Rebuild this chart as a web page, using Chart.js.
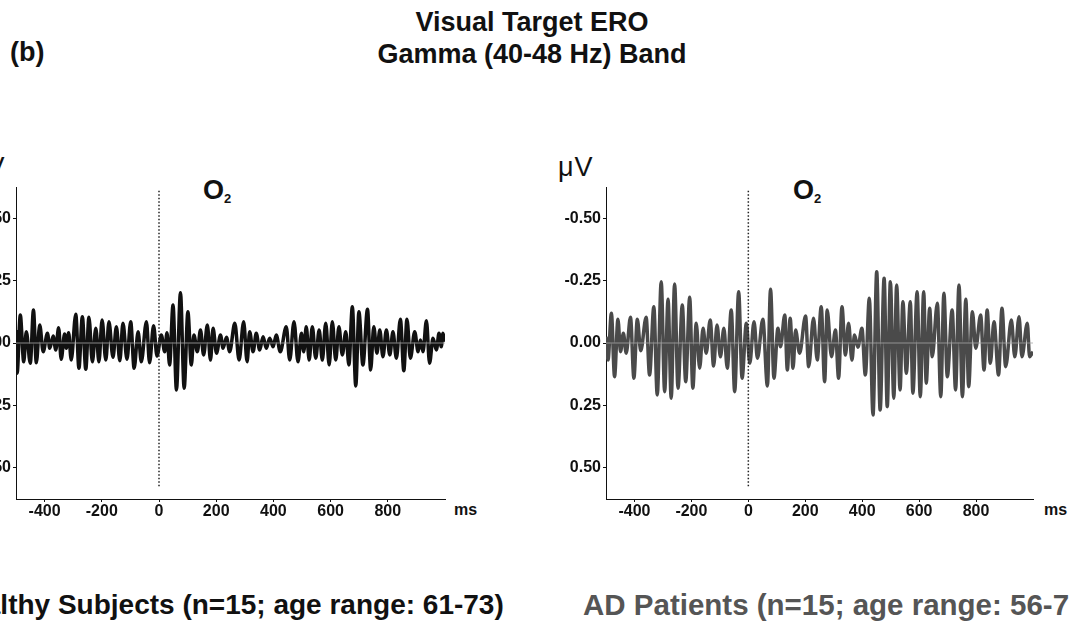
<!DOCTYPE html>
<html>
<head>
<meta charset="utf-8">
<script src="https://cdn.jsdelivr.net/npm/chart.js@4.4.1/dist/chart.umd.min.js"></script>
<style>
  html, body { margin:0; padding:0; background:#fff; width:1069px; height:623px; overflow:hidden; position:relative;
    font-family:'Liberation Sans', Arial, sans-serif; }
  .txt { position:absolute; white-space:nowrap; line-height:1; font-weight:bold; color:#111; }
  .txt sub { font-size:13px; vertical-align:-4px; }
  canvas { position:absolute; }
</style>
</head>
<body>
<div class="txt" style="left:10px;top:39px;font-size:27px">(b)</div>
<div class="txt" style="left:0;width:1064px;text-align:center;top:9px;font-size:27px">Visual Target ERO</div>
<div class="txt" style="left:0;width:1064px;text-align:center;top:41px;font-size:27px">Gamma (40-48 Hz) Band</div>

<div class="txt" style="left:-30px;top:154px;font-size:27px;font-weight:normal;letter-spacing:1px">μV</div>
<div class="txt" style="left:558px;top:154px;font-size:27px;font-weight:normal;letter-spacing:1px">μV</div>
<div class="txt" style="left:203px;top:177px;font-size:27px">O<sub>2</sub></div>
<div class="txt" style="left:793px;top:177px;font-size:27px">O<sub>2</sub></div>
<div class="txt" style="left:454px;top:502px;font-size:16px">ms</div>
<div class="txt" style="left:1044px;top:502px;font-size:16px">ms</div>

<div class="txt" style="left:-51px;top:591px;font-size:28px">Healthy Subjects (n=15; age range: 61-73)</div>
<div class="txt" style="left:583px;top:590px;font-size:29.5px;color:#555">AD Patients (n=15; age range: 56-73)</div>

<canvas id="healthy" width="509" height="372" style="left:-54px;top:167px"></canvas>
<canvas id="patients" width="507" height="372" style="left:536px;top:167px"></canvas>

<script>
// axis setup (ms / uV, negative up)
const xMin = -500, xMax = 1000
const yMin = -0.625, yMax = 0.625
const xTicks = [-400, -200, 0, 200, 400, 600, 800]
const yTicks = [-0.5, -0.25, 0, 0.25, 0.5]
const onsetSpan = [-0.61, 0.58]

// healthy subjects, O2 - peaks and troughs
const healthyTimes = [
  -501, -496, -485, -473, -464, -450, -439, -429, -417, -405, -390, -382, -370, -361, -351, -342, -330, -324, -316, -307,
  -291, -280, -268, -256, -245, -233, -221, -210, -199, -186, -175, -161, -149, -137, -126, -112, -99, -87, -73, -62,
  -44, -33, -19, -7,
  8, 20, 28, 37, 49, 61, 75, 88, 101, 113, 122, 134, 145, 156, 169, 180, 189, 201, 215, 224,
  236, 247, 265, 280, 296, 308, 317, 329, 340, 352, 364, 375, 387, 399, 410, 424, 445, 457, 472, 486,
  498, 506, 515, 525,
  536, 548, 560, 571, 583, 595, 606, 618, 629, 641, 653, 664, 676, 688, 699, 713, 729, 740, 751, 762,
  772, 783, 795, 807, 818, 830, 844, 856, 867, 879, 894, 906, 914, 923, 935, 946, 958, 970, 979, 987,
  993, 999
]
const healthyValues = [
  -0.052, 0.121, -0.112, 0.075, -0.045, 0.081, -0.132, 0.079, -0.072, 0.035, -0.039, 0.021, -0.028, 0.028, -0.061, 0.065, -0.036, 0.021, -0.041, 0.068,
  -0.115, 0.101, -0.105, 0.105, -0.103, 0.075, -0.059, 0.075, -0.092, 0.068, -0.085, 0.057, -0.065, 0.071, -0.079, 0.065, -0.085, 0.101, -0.045, 0.075,
  -0.085, 0.079, -0.069, 0.052,
  -0.032, 0.035, -0.041, 0.088, -0.152, 0.188, -0.201, 0.181, -0.125, 0.088, -0.032, 0.035, -0.052, 0.048, -0.072, 0.068, -0.059, 0.041, -0.032, 0.021,
  -0.023, 0.035, -0.079, 0.068, -0.085, 0.075, -0.045, 0.035, -0.039, 0.028, -0.025, 0.021, -0.019, 0.015, -0.032, 0.035, -0.065, 0.068, -0.085, 0.075,
  -0.039, 0.035, -0.065, 0.068,
  -0.065, 0.061, -0.052, 0.068, -0.079, 0.088, -0.085, 0.068, -0.065, 0.048, -0.045, 0.088, -0.145, 0.172, -0.125, 0.088, -0.135, 0.108, -0.065, 0.041,
  -0.052, 0.055, -0.052, 0.048, -0.045, 0.061, -0.095, 0.111, -0.095, 0.061, -0.045, 0.035, -0.012, 0.035, -0.089, 0.081, -0.019, 0.028, -0.039, 0.015,
  -0.039, -0.005
]

// AD patients, O2
const patientTimes = [
  -500, -493, -481, -470, -458, -449, -439, -429, -414, -402, -390, -378, -359, -347, -332, -320, -306, -294, -282, -271,
  -259, -247, -232, -220, -206, -195, -183, -171, -159, -148, -134, -122, -110, -98, -86, -74, -60, -48, -34, -22,
  -7, 5,
  20, 32, 51, 67, 78, 90, 104, 113, 128, 137, 147, 157, 166, 180, 201, 212, 229, 242, 256, 268,
  277, 292, 306, 317, 329, 341, 352, 364, 373, 385, 399, 411, 425, 438, 451, 463, 477, 488, 499, 511,
  521, 533,
  543, 555, 569, 578, 593, 604, 616, 625, 637, 646, 664, 676, 687, 699, 716, 728, 740, 752, 764, 774,
  787, 799, 816, 828, 839, 850, 863, 879, 891, 904, 924, 936, 951, 961, 980, 988, 1000
]
const patientValues = [
  -0.025, 0.068, -0.119, 0.135, -0.095, 0.035, -0.039, 0.041, -0.103, 0.141, -0.095, 0.031, -0.103, 0.128, -0.145, 0.208, -0.245, 0.195, -0.175, 0.221,
  -0.236, 0.181, -0.152, 0.155, -0.183, 0.181, -0.079, 0.101, -0.059, 0.041, -0.092, 0.092, -0.072, 0.055, -0.059, 0.101, -0.132, 0.195, -0.205, 0.141,
  -0.079, 0.081,
  -0.085, 0.061, -0.095, 0.172, -0.215, 0.141, -0.059, 0.015, -0.112, 0.108, -0.099, 0.101, -0.052, 0.041, -0.108, 0.095, -0.099, 0.068, -0.145, 0.155,
  -0.132, 0.055, -0.052, 0.141, -0.145, 0.048, -0.079, 0.068, -0.032, 0.017, -0.059, 0.128, -0.179, 0.288, -0.285, 0.268, -0.259, 0.255, -0.245, 0.221,
  -0.232, 0.188,
  -0.165, 0.121, -0.165, 0.201, -0.205, 0.215, -0.205, 0.161, -0.139, 0.055, -0.159, 0.215, -0.199, 0.135, -0.132, 0.188, -0.232, 0.215, -0.175, 0.175,
  -0.125, 0.021, -0.112, 0.108, -0.132, 0.081, -0.085, 0.128, -0.139, 0.095, -0.092, 0.055, -0.105, 0.055, -0.079, 0.055, 0.035
]

Chart.defaults.font.family = "'Liberation Sans', Arial, sans-serif"

const tickFont = {size: 16, weight: 'bold'}

function makePanel(id, times, values, color){
    const wave = times.map((t, i) => ({x: t, y: values[i]}))
    return new Chart(document.getElementById(id), {
        type: 'line',
        data: {
            datasets: [
                // baseline
                {data: [{x: xMin, y: 0}, {x: xMax, y: 0}], borderColor: '#a6a6a6', borderWidth: 0.8, tension: 0},
                // stimulus onset
                {data: [{x: 0, y: onsetSpan[0]}, {x: 0, y: onsetSpan[1]}], borderColor: '#222', borderWidth: 1.5, borderDash: [1.5, 2], tension: 0},
                {data: wave, borderColor: color, borderWidth: 3.5, cubicInterpolationMode: 'monotone'}
            ]
        },
        options: {
            responsive: false,
            animation: false,
            layout: {padding: {top: 20, right: 10, bottom: 0, left: 0}},
            elements: {point: {radius: 0}},
            plugins: {legend: {display: false}, tooltip: {enabled: false}},
            scales: {
                x: {
                    type: 'linear', min: xMin, max: xMax,
                    afterBuildTicks: s => { s.ticks = xTicks.map(v => ({value: v})) },
                    afterFit: s => { s.height = 40 },
                    grid: {drawOnChartArea: false, tickLength: 3, color: '#111'},
                    border: {color: '#111', width: 1},
                    ticks: {padding: 0, color: '#111', font: tickFont, maxRotation: 0, autoSkip: false}
                },
                y: {
                    type: 'linear', reverse: true, min: yMin, max: yMax,
                    afterBuildTicks: s => { s.ticks = yTicks.map(v => ({value: v})) },
                    afterFit: s => { s.width = 70 },
                    grid: {drawOnChartArea: false, tickLength: 3, color: '#111'},
                    border: {color: '#111', width: 1},
                    ticks: {padding: 2, color: '#111', font: tickFont, callback: v => v.toFixed(2)}
                }
            }
        }
    })
}

makePanel('healthy', healthyTimes, healthyValues, '#111')
makePanel('patients', patientTimes, patientValues, '#4a4a4a')
</script>
</body>
</html>
